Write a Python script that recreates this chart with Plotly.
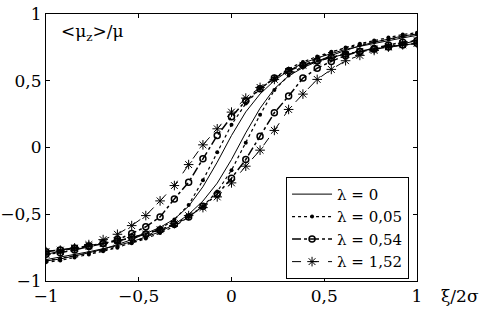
import plotly.graph_objects as go

# x grid of the computed points (xi / 2 sigma), lower (field increasing) branch
x_up = [-1.0, -0.923, -0.846, -0.769, -0.692, -0.615, -0.538, -0.462, -0.385, -0.308,
        -0.231, -0.154, -0.077, 0.0, 0.077, 0.154, 0.231, 0.308, 0.385, 0.462,
        0.538, 0.615, 0.692, 0.769, 0.846, 0.923, 1.0]
# upper (field decreasing) branch, from +1 back to -1
x_down = [1.0, 0.923, 0.846, 0.769, 0.692, 0.615, 0.538, 0.462, 0.385, 0.308,
          0.231, 0.154, 0.077, 0.0, -0.077, -0.154, -0.231, -0.308, -0.385, -0.462,
          -0.538, -0.615, -0.692, -0.769, -0.846, -0.923, -1.0]

# lambda = 0
l0_up = [-0.840, -0.821, -0.801, -0.781, -0.758, -0.735, -0.705, -0.671, -0.630, -0.576,
         -0.501, -0.401, -0.267, -0.090, 0.110, 0.294, 0.440, 0.536, 0.598, 0.647,
         0.690, 0.727, 0.761, 0.789, 0.814, 0.835, 0.850]
l0_down = [0.840, 0.821, 0.801, 0.781, 0.758, 0.735, 0.705, 0.671, 0.630, 0.576,
           0.501, 0.401, 0.267, 0.090, -0.110, -0.294, -0.440, -0.536, -0.598, -0.647,
           -0.690, -0.727, -0.761, -0.789, -0.814, -0.835, -0.850]
# lambda = 0.05
l1_up = [-0.850, -0.831, -0.811, -0.791, -0.768, -0.745, -0.717, -0.682, -0.641, -0.590,
         -0.520, -0.440, -0.330, -0.170, 0.035, 0.245, 0.430, 0.540, 0.610, 0.670,
         0.712, 0.750, 0.778, 0.801, 0.824, 0.846, 0.860]
l1_down = [0.850, 0.831, 0.811, 0.791, 0.768, 0.745, 0.717, 0.682, 0.641, 0.590,
           0.520, 0.440, 0.330, 0.170, -0.035, -0.245, -0.430, -0.540, -0.610, -0.670,
           -0.712, -0.750, -0.778, -0.801, -0.824, -0.846, -0.860]
# lambda = 0.54
l2_up = [-0.780, -0.768, -0.753, -0.737, -0.720, -0.700, -0.675, -0.648, -0.616, -0.575,
         -0.520, -0.440, -0.350, -0.230, -0.090, 0.085, 0.260, 0.385, 0.520, 0.594,
         0.645, 0.690, 0.720, 0.742, 0.768, 0.788, 0.800]
l2_down = [0.780, 0.768, 0.753, 0.737, 0.720, 0.700, 0.675, 0.648, 0.616, 0.575,
           0.520, 0.440, 0.350, 0.230, 0.090, -0.085, -0.260, -0.385, -0.520, -0.594,
           -0.645, -0.690, -0.720, -0.742, -0.768, -0.788, -0.800]
# lambda = 1.52
l3_up = [-0.780, -0.769, -0.754, -0.738, -0.720, -0.700, -0.675, -0.648, -0.616, -0.570,
         -0.510, -0.450, -0.370, -0.265, -0.140, -0.020, 0.128, 0.285, 0.400, 0.510,
         0.585, 0.650, 0.690, 0.727, 0.755, 0.780, 0.800]
l3_down = [0.780, 0.769, 0.754, 0.738, 0.720, 0.700, 0.675, 0.648, 0.616, 0.570,
           0.510, 0.450, 0.370, 0.265, 0.140, 0.020, -0.128, -0.285, -0.400, -0.510,
           -0.585, -0.650, -0.690, -0.727, -0.755, -0.780, -0.800]

names = ["λ = 0", "λ = 0,05", "λ = 0,54", "λ = 1,52"]
tick_vals = [-1, -0.5, 0, 0.5, 1]
tick_text = ["\u22121", "\u22120,5", "0", "0,5", "1"]

FONT = "DejaVu Serif"

fig = go.Figure()

series = [(l0_up, l0_down), (l1_up, l1_down), (l2_up, l2_down), (l3_up, l3_down)]
styles = [
    dict(line=dict(color="black", width=1, dash="solid"), mode="lines", marker=None),
    dict(line=dict(color="black", width=1.2, dash="dot"), mode="lines+markers",
         marker=dict(symbol="circle", size=4, color="black")),
    dict(line=dict(color="black", width=1.5, dash="dashdot"), mode="lines+markers",
         marker=dict(symbol="circle-open", size=6, color="black", line=dict(width=1.5, color="black"))),
    dict(line=dict(color="black", width=1, dash="dash"), mode="lines+markers",
         marker=dict(symbol="asterisk-open", size=8, color="black", line=dict(width=1, color="black"))),
]

for (yu, yd), nm, st in zip(series, names, styles):
    kw = dict(x=x_up + x_down, y=yu + yd, name=nm, mode=st["mode"], line=st["line"])
    if st["marker"] is not None:
        kw["marker"] = st["marker"]
    fig.add_trace(go.Scatter(**kw))

axis_common = dict(
    showgrid=False, zeroline=False, showline=True, linecolor="black", linewidth=1,
    mirror="ticks", ticks="inside", ticklen=4, tickcolor="black", tickwidth=1,
    range=[-1, 1], tickvals=tick_vals, ticktext=tick_text, automargin=False,
    tickfont=dict(family=FONT, size=17, color="black"),
)
fig.update_xaxes(**axis_common)
fig.update_yaxes(**axis_common)

fig.add_annotation(x=-0.93, y=0.865, xref="x", yref="y", xanchor="left", yanchor="middle",
                   text="&lt;μ<sub>z</sub>&gt;/μ", showarrow=False,
                   font=dict(family=FONT, size=17, color="black"))
fig.add_annotation(x=1.06, y=-0.055, xref="paper", yref="paper", xanchor="left", yanchor="middle",
                   text="ξ/2σ", showarrow=False,
                   font=dict(family=FONT, size=17, color="black"))

fig.update_layout(
    width=481, height=311,
    font=dict(family=FONT, color="black"),
    margin=dict(l=46, r=64, t=14, b=30, autoexpand=False),
    plot_bgcolor="white", paper_bgcolor="white",
    showlegend=True,
    legend=dict(x=0.647, y=0.39, xanchor="left", yanchor="top",
                bgcolor="white", bordercolor="black", borderwidth=1,
                font=dict(family=FONT, size=15, color="black"),
                tracegroupgap=0, itemwidth=40),
)

fig.write_html("out.html", config={"displayModeBar": False},
               post_script="document.body.style.margin='0px';document.body.style.padding='0px';")
